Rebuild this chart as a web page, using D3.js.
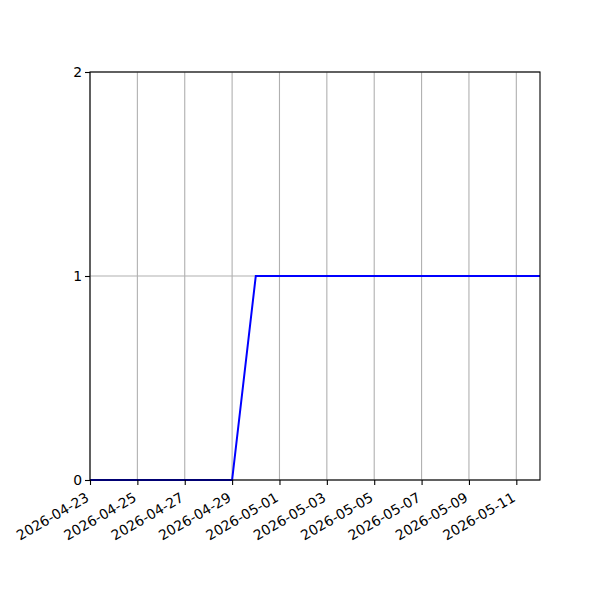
<!DOCTYPE html>
<html>
<head>
<meta charset="utf-8">
<script src="https://cdn.jsdelivr.net/npm/d3@7"></script>
<style>
  body { margin: 0; background: #fff; }
  svg text { font-family: "DejaVu Sans", sans-serif; }
</style>
</head>
<body>
<svg class="chart" width="600" height="600"></svg>
<script>
// data
const dates = ['2026-04-23', '2026-04-24', '2026-04-25', '2026-04-26', '2026-04-27',
    '2026-04-28', '2026-04-29', '2026-04-30', '2026-05-01', '2026-05-02', '2026-05-03',
    '2026-05-04', '2026-05-05', '2026-05-06', '2026-05-07', '2026-05-08', '2026-05-09',
    '2026-05-10', '2026-05-11', '2026-05-12'];
const values = [0, 0, 0, 0, 0, 0, 0, 1, 1, 1, 1, 1, 1, 1, 1, 1, 1, 1, 1, 1];
const xTicks = ['2026-04-23', '2026-04-25', '2026-04-27', '2026-04-29', '2026-05-01',
    '2026-05-03', '2026-05-05', '2026-05-07', '2026-05-09', '2026-05-11'];
const yTicks = [0, 1, 2];

const parse = d3.utcParse('%Y-%m-%d');
const fmt = d3.utcFormat('%Y-%m-%d');
const points = dates.map((d, i) => ({ date: parse(d), value: values[i] }));

const svg = d3.select('.chart');
const width = +svg.attr('width');
const height = +svg.attr('height');
const margin = { top: 72, right: 60, bottom: 120, left: 90 };
const innerWidth = width - margin.left - margin.right;
const innerHeight = height - margin.top - margin.bottom;

const xScale = d3.scaleUtc()
    .domain(d3.extent(points, d => d.date))
    .range([0, innerWidth]);

const yScale = d3.scaleLinear()
    .domain([0, 2])
    .range([innerHeight, 0]);

const g = svg.append('g')
    .attr('transform', `translate(${margin.left}, ${margin.top})`);

// grid
g.append('g')
    .selectAll('line')
    .data(xTicks.map(parse))
    .join('line')
    .attr('x1', d => xScale(d)).attr('x2', d => xScale(d))
    .attr('y1', 0).attr('y2', innerHeight)
    .attr('stroke', '#b0b0b0').attr('stroke-width', 1.1);

g.append('g')
    .selectAll('line')
    .data(yTicks)
    .join('line')
    .attr('x1', 0).attr('x2', innerWidth)
    .attr('y1', d => yScale(d)).attr('y2', d => yScale(d))
    .attr('stroke', '#b0b0b0').attr('stroke-width', 1.1);

// line
const line = d3.line()
    .x(d => xScale(d.date))
    .y(d => yScale(d.value));

g.append('path')
    .datum(points)
    .attr('d', line)
    .attr('fill', 'none')
    .attr('stroke', '#0000ff')
    .attr('stroke-width', 2);

// frame
g.append('rect')
    .attr('width', innerWidth)
    .attr('height', innerHeight)
    .attr('fill', 'none')
    .attr('stroke', '#000')
    .attr('stroke-width', 1.1);

// axes
const xAxis = g.append('g')
    .attr('transform', `translate(0, ${innerHeight})`)
    .attr('font-family', '"DejaVu Sans", sans-serif')
    .call(d3.axisBottom(xScale)
        .tickValues(xTicks.map(parse))
        .tickFormat(fmt)
        .tickSizeOuter(0)
        .tickSize(5));
xAxis.select('.domain').remove();
xAxis.selectAll('.tick line').attr('stroke-width', 1.1);
xAxis.selectAll('.tick text')
    .style('font-size', '13.9px')
    .attr('fill', '#000')
    .attr('text-anchor', 'end')
    .attr('dy', null)
    .attr('y', 0)
    .attr('dominant-baseline', 'central')
    .attr('transform', 'translate(-3, 16) rotate(-30)');

const yAxis = g.append('g')
    .attr('font-family', '"DejaVu Sans", sans-serif')
    .call(d3.axisLeft(yScale)
        .tickValues(yTicks)
        .tickFormat(d3.format('d'))
        .tickSizeOuter(0)
        .tickSize(5));
yAxis.select('.domain').remove();
yAxis.selectAll('.tick line').attr('stroke-width', 1.1);
yAxis.selectAll('.tick text')
    .style('font-size', '13.9px')
    .attr('fill', '#000')
    .attr('x', -8);
</script>
</body>
</html>
